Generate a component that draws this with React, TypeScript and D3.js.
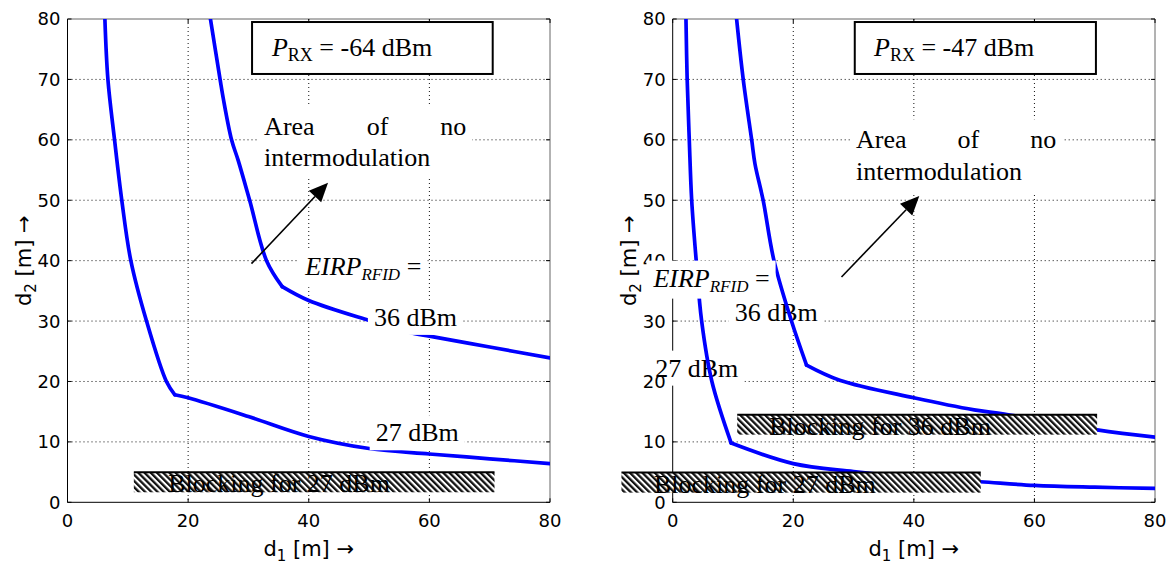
import React, { useEffect, useRef } from 'react';
import * as d3 from 'd3';

const WIDTH = 1175;
const HEIGHT = 566;

// axis ticks
const d1Ticks = [0, 20, 40, 60, 80];
const d2Ticks = [0, 10, 20, 30, 40, 50, 60, 70, 80];

// ---- left panel (P_RX = -64 dBm) ----
const leftRx = '-64';
const left27D1 = [6.2, 6.7, 7.8, 9.0, 10.5, 13.1, 16.4, 17.8, 20, 30, 40, 50, 60, 70, 80];
const left27D2 = [80, 70, 60, 50, 40, 30, 20, 17.8, 17.3, 14.2, 10.9, 8.9, 8.0, 7.2, 6.4];
const left36D1 = [23.7, 25.3, 25.8, 27.2, 28.3, 30.2, 33.0, 35.6, 40, 50, 57.6, 60, 70, 80];
const left36D2 = [80, 70, 67, 60, 56.6, 50, 40, 35.7, 33.4, 30.1, 27.9, 27.5, 25.7, 23.9];
// blocking regions: [d1 start, d1 end, d2 low, d2 high]
const leftBlock27 = [11.0, 70.8, 1.66, 4.97];

// ---- right panel (P_RX = -47 dBm) ----
const rightRx = '-47';
const right27D1 = [2.2, 2.4, 2.75, 3.15, 3.9, 4.8, 6.5, 9.7, 20, 30, 40, 51, 60, 70, 80];
const right27D2 = [80, 70, 60, 50, 40, 30, 20, 9.8, 6.4, 5.1, 4.1, 3.4, 2.8, 2.5, 2.3];
const right36D1 = [10.6, 11.7, 13.1, 13.65, 15.0, 16.8, 19.7, 22.2, 27.7, 40, 50, 55, 70.4, 80];
const right36D2 = [80, 70, 60, 56, 50, 40, 30, 22.7, 20.2, 17.3, 15.3, 14.6, 12.0, 10.8];
const rightBlock27 = [-8.5, 51.1, 1.6, 4.95];
const rightBlock36 = [10.7, 70.4, 11.2, 14.5];

const blockText27 = 'Blocking for 27 dBm';
const blockText36 = 'Blocking for 36 dBm';
const label27 = '27 dBm';
const label36 = '36 dBm';

const SERIF = "'Liberation Serif', 'Times New Roman', serif";
const SANS = "'DejaVu Sans', 'Liberation Sans', Arial, sans-serif";

type Part = { t: string; italic?: boolean; sub?: boolean; subSize?: number };
type Label = { parts: Part[]; d1: number; d2: number; under?: boolean };
type Block = { r: number[]; text: string; textD1: number };
type Curve = { d1: number[]; d2: number[]; kink: number };
type Panel = {
  left: number;
  right: number;
  rx: string;
  curves: Curve[];
  blocks: Block[];
  labels: Label[];
  area: { d1: number; d1End: number; d2a: number; d2b: number };
  arrow: { from: number[]; to: number[] };
  box: number[];
  boxText: number[];
};

const eirpParts: Part[] = [
  { t: 'EIRP', italic: true },
  { t: 'RFID', italic: true, sub: true, subSize: 17 },
  { t: ' =' },
];

const panels: Panel[] = [
  {
    left: 67.5,
    right: 550,
    rx: leftRx,
    curves: [
      { d1: left27D1, d2: left27D2, kink: 7 },
      { d1: left36D1, d2: left36D2, kink: 7 },
    ],
    blocks: [{ r: leftBlock27, text: blockText27, textD1: 16.7 }],
    labels: [
      { parts: eirpParts, d1: 39.4, d2: 37.6 },
      { parts: [{ t: label36 }], d1: 50.8, d2: 29.2 },
      { parts: [{ t: label27 }], d1: 51.1, d2: 10.1 },
    ],
    area: { d1: 32.6, d1End: 66.1, d2a: 60.8, d2b: 55.6 },
    arrow: { from: [30.5, 39.5], to: [43.2, 52.9] },
    box: [30.6, 70.5, 70.9, 79.5],
    boxText: [33.9, 73.95],
  },
  {
    left: 672.7,
    right: 1155,
    rx: rightRx,
    curves: [
      { d1: right27D1, d2: right27D2, kink: 7 },
      { d1: right36D1, d2: right36D2, kink: 7 },
    ],
    blocks: [
      { r: rightBlock36, text: blockText36, textD1: 16.0 },
      { r: rightBlock27, text: blockText27, textD1: -3.1 },
    ],
    labels: [
      { parts: [{ t: label36 }], d1: 10.3, d2: 30.06, under: true },
      { parts: [{ t: label27 }], d1: -2.9, d2: 20.8, under: true },
      { parts: eirpParts, d1: -3.2, d2: 35.7 },
    ],
    area: { d1: 30.4, d1End: 63.6, d2a: 58.6, d2b: 53.3 },
    arrow: { from: [28.0, 37.3], to: [40.9, 50.7] },
    box: [30.2, 70.2, 70.9, 79.5],
    boxText: [33.4, 73.95],
  },
];

const TOP = 19;
const BOTTOM = 502.3;
const FS = 26;

const App = () => {
  const ref = useRef<SVGSVGElement>(null);

  useEffect(() => {
    const svg = d3.select(ref.current);
    svg.selectAll('*').remove();
    svg.append('rect').attr('width', WIDTH).attr('height', HEIGHT).attr('fill', '#fff');
    const defs = svg.append('defs');
    const pat = defs
      .append('pattern')
      .attr('id', 'hatch')
      .attr('patternUnits', 'userSpaceOnUse')
      .attr('width', 4.4)
      .attr('height', 10)
      .attr('patternTransform', 'rotate(-45)');
    pat.append('rect').attr('width', 4.4).attr('height', 10).attr('fill', '#fff');
    pat.append('rect').attr('width', 2.3).attr('height', 10).attr('fill', '#111');

    const addParts = (text: any, parts: Part[]) => {
      let shifted = false;
      parts.forEach((p) => {
        const ts = text.append('tspan').text(p.t);
        if (p.italic) ts.attr('font-style', 'italic');
        if (p.sub) {
          ts.attr('font-size', p.subSize || 18).attr('dy', shifted ? 0 : 5);
          shifted = true;
        } else {
          ts.attr('font-size', FS);
          if (shifted) {
            ts.attr('dy', -5);
            shifted = false;
          }
        }
      });
    };

    const withBg = (parent: any, build: (g: any) => void, padX = 6, padY = 3) => {
      const g = parent.append('g');
      const bg = g.append('rect').attr('fill', '#fff');
      const inner = g.append('g');
      build(inner);
      const bb = (inner.node() as SVGGElement).getBBox();
      bg.attr('x', bb.x - padX)
        .attr('y', bb.y - padY)
        .attr('width', bb.width + 2 * padX)
        .attr('height', bb.height + 2 * padY);
      return g;
    };

    panels.forEach((p, pi) => {
      const x = d3.scaleLinear().domain([0, 80]).range([p.left, p.right]);
      const y = d3.scaleLinear().domain([0, 80]).range([BOTTOM, TOP]);
      const g = svg.append('g');
      const clipId = `clip${pi}`;
      defs
        .append('clipPath')
        .attr('id', clipId)
        .append('rect')
        .attr('x', p.left)
        .attr('y', TOP)
        .attr('width', p.right - p.left)
        .attr('height', BOTTOM - TOP);

      // grid
      d1Ticks
        .filter((t) => t > 0 && t < 80)
        .forEach((t) =>
          g
            .append('line')
            .attr('x1', x(t))
            .attr('x2', x(t))
            .attr('y1', TOP)
            .attr('y2', BOTTOM)
            .attr('stroke', '#111')
            .attr('stroke-width', 1)
            .attr('stroke-dasharray', '1,3')
        );
      d2Ticks
        .filter((t) => t > 0 && t < 80)
        .forEach((t) =>
          g
            .append('line')
            .attr('x1', p.left)
            .attr('x2', p.right)
            .attr('y1', y(t))
            .attr('y2', y(t))
            .attr('stroke', '#111')
            .attr('stroke-width', 1)
            .attr('stroke-dasharray', '1,3')
        );

      // axes box
      g.append('line').attr('x1', p.left).attr('x2', p.right).attr('y1', TOP).attr('y2', TOP).attr('stroke', '#666');
      g.append('line').attr('x1', p.right).attr('x2', p.right).attr('y1', TOP).attr('y2', BOTTOM).attr('stroke', '#666');
      g.append('line').attr('x1', p.left).attr('x2', p.right).attr('y1', BOTTOM).attr('y2', BOTTOM).attr('stroke', '#000');
      g.append('line').attr('x1', p.left).attr('x2', p.left).attr('y1', TOP).attr('y2', BOTTOM).attr('stroke', '#000');

      const TL = 4;
      d1Ticks.forEach((t) => {
        g.append('line').attr('x1', x(t)).attr('x2', x(t)).attr('y1', BOTTOM).attr('y2', BOTTOM - TL).attr('stroke', '#000');
        g.append('line').attr('x1', x(t)).attr('x2', x(t)).attr('y1', TOP).attr('y2', TOP + TL).attr('stroke', '#000');
      });
      d2Ticks.forEach((t) => {
        g.append('line').attr('x1', p.left).attr('x2', p.left + TL).attr('y1', y(t)).attr('y2', y(t)).attr('stroke', '#000');
        g.append('line').attr('x1', p.right).attr('x2', p.right - TL).attr('y1', y(t)).attr('y2', y(t)).attr('stroke', '#000');
      });

      const drawLabel = (lab: Label) => {
        withBg(g, (inner) => {
          const t = inner
            .append('text')
            .attr('x', x(lab.d1))
            .attr('y', y(lab.d2))
            .attr('font-family', SERIF)
            .attr('font-size', FS)
            .style('white-space', 'pre');
          addParts(t, lab.parts);
        });
      };

      // labels beneath curves
      p.labels.filter((l) => l.under).forEach(drawLabel);

      // tick labels
      d1Ticks.forEach((t) => {
        g.append('text')
          .attr('x', x(t))
          .attr('y', 527)
          .attr('text-anchor', 'middle')
          .attr('font-family', SANS)
          .attr('font-size', 18)
          .text(String(t));
      });
      d2Ticks.forEach((t) => {
        g.append('text')
          .attr('x', p.left - 7)
          .attr('y', y(t))
          .attr('dy', '0.36em')
          .attr('text-anchor', 'end')
          .attr('font-family', SANS)
          .attr('font-size', 18)
          .text(String(t));
      });

      // axis labels
      const xl = g
        .append('text')
        .attr('x', (p.left + p.right) / 2)
        .attr('y', 556)
        .attr('text-anchor', 'middle')
        .attr('font-family', SANS)
        .attr('font-size', 21)
        .style('white-space', 'pre');
      xl.append('tspan').text('d');
      xl.append('tspan').text('1').attr('font-size', 15).attr('dy', 5);
      xl.append('tspan').text(' [m] \u2192').attr('dy', -5);

      const yl = g
        .append('text')
        .attr('transform', `translate(${p.left - 37},${(TOP + BOTTOM) / 2}) rotate(-90)`)
        .attr('text-anchor', 'middle')
        .attr('font-family', SANS)
        .attr('font-size', 21)
        .style('white-space', 'pre');
      yl.append('tspan').text('d');
      yl.append('tspan').text('2').attr('font-size', 15).attr('dy', 5);
      yl.append('tspan').text(' [m] \u2192').attr('dy', -5);

      // curves: steep branch + flat branch, each smoothed, meeting at the kink
      p.curves.forEach((c) => {
        const idx = c.d1.map((_, i) => i);
        const steep = idx.slice(0, c.kink + 1);
        const flat = idx.slice(c.kink);
        const gen = d3
          .line<number>()
          .x((i) => x(c.d1[i]))
          .y((i) => y(c.d2[i]))
          .curve(d3.curveCatmullRom.alpha(0.5));
        [gen(steep), gen(flat)].forEach((dstr) => {
          g.append('path')
            .attr('d', dstr as string)
            .attr('fill', 'none')
            .attr('stroke', '#0000ff')
            .attr('stroke-width', 3.7)
            .attr('stroke-linejoin', 'round')
            .attr('stroke-linecap', 'round')
            .attr('clip-path', `url(#${clipId})`);
        });
      });

      // blocking regions
      p.blocks.forEach((b) => {
        const [a1, a2, lo, hi] = b.r;
        g.append('rect')
          .attr('x', x(a1))
          .attr('y', y(hi))
          .attr('width', x(a2) - x(a1))
          .attr('height', y(lo) - y(hi))
          .attr('fill', 'url(#hatch)');
        g.append('line')
          .attr('x1', x(a1))
          .attr('x2', x(a2))
          .attr('y1', y(hi))
          .attr('y2', y(hi))
          .attr('stroke', '#000')
          .attr('stroke-width', 2);
        g.append('text')
          .attr('x', x(b.textD1))
          .attr('y', y(lo))
          .attr('font-family', SERIF)
          .attr('font-size', FS)
          .attr('fill', '#000')
          .text(b.text);
      });

      // labels over curves
      p.labels.filter((l) => !l.under).forEach(drawLabel);

      // "Area of no intermodulation"
      withBg(
        g,
        (inner) => {
          const a = p.area;
          const x0 = x(a.d1);
          const x1 = x(a.d1End);
          const mk = () => inner.append('text').attr('font-family', SERIF).attr('font-size', FS);
          mk().attr('x', x0).attr('y', y(a.d2a)).text('Area');
          mk()
            .attr('x', x0 + (x1 - x0) * 0.561)
            .attr('y', y(a.d2a))
            .attr('text-anchor', 'middle')
            .text('of');
          mk().attr('x', x1).attr('y', y(a.d2a)).attr('text-anchor', 'end').text('no');
          mk().attr('x', x0).attr('y', y(a.d2b)).text('intermodulation');
        },
        6,
        6
      );

      // arrow
      const sx = x(p.arrow.from[0]);
      const sy = y(p.arrow.from[1]);
      const tx = x(p.arrow.to[0]);
      const ty = y(p.arrow.to[1]);
      const ang = Math.atan2(ty - sy, tx - sx);
      const HL = 19;
      const HW = 8.5;
      const bx = tx - HL * Math.cos(ang);
      const by = ty - HL * Math.sin(ang);
      g.append('line').attr('x1', sx).attr('y1', sy).attr('x2', bx).attr('y2', by).attr('stroke', '#000').attr('stroke-width', 1.6);
      g.append('path')
        .attr(
          'd',
          `M${tx},${ty}L${bx - HW * Math.sin(ang)},${by + HW * Math.cos(ang)}L${bx + HW * Math.sin(ang)},${by - HW * Math.cos(ang)}Z`
        )
        .attr('fill', '#000');

      // P_RX box
      const [b1, b2, blo, bhi] = p.box;
      g.append('rect')
        .attr('x', x(b1))
        .attr('y', y(bhi))
        .attr('width', x(b2) - x(b1))
        .attr('height', y(blo) - y(bhi))
        .attr('fill', '#fff')
        .attr('stroke', '#000')
        .attr('stroke-width', 2);
      const bt = g
        .append('text')
        .attr('x', x(p.boxText[0]))
        .attr('y', y(p.boxText[1]))
        .attr('font-family', SERIF)
        .attr('font-size', FS)
        .style('white-space', 'pre');
      addParts(bt, [
        { t: 'P', italic: true },
        { t: 'RX', sub: true, subSize: 18 },
        { t: ` = ${p.rx} dBm` },
      ]);
    });
  }, []);

  return (
    <svg
      ref={ref}
      width={WIDTH}
      height={HEIGHT}
      style={{ position: 'absolute', left: 0, top: 0, background: '#fff' }}
    />
  );
};

export default App;
